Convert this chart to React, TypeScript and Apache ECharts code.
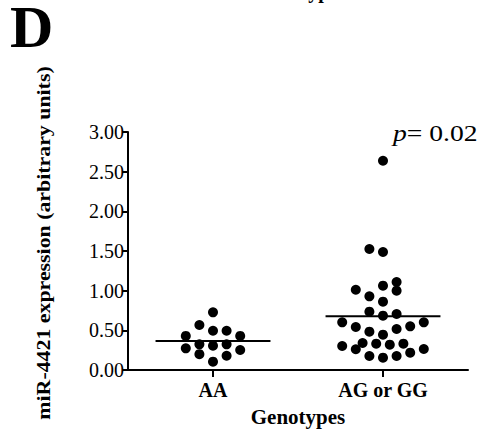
import React, { useEffect, useRef } from "react";
import * as echarts from "echarts";

const categories = ["AA", "AG or GG"];
const yTicks = [0, 0.5, 1, 1.5, 2, 2.5, 3];

// Expression values and horizontal scatter slot (column) for each dot
const aaValues = [0.727, 0.567, 0.495, 0.495, 0.43, 0.43, 0.273, 0.324, 0.307, 0.324, 0.252, 0.2, 0.18, 0.105];
const aaSlots = [0, -1, 0, 1, -2, 2, -2, -1, 0, 1, 2, -1, 1, 0];

const agValues = [
  2.638, 1.525, 1.487, 1.109, 1.0, 1.063, 1.012, 0.929, 0.861, 0.735, 0.685, 0.706, 0.601, 0.601, 0.542,
  0.55, 0.517, 0.483, 0.445, 0.303, 0.34, 0.332, 0.319, 0.332, 0.261, 0.265, 0.218, 0.176, 0.155, 0.176,
];
const agSlots = [
  0, -1, 0, 1, 1, 0, -2, -1, 0, -1, 0, 1, -3, 3, -2,
  2, 1, -1, 0, -3, -1.5, -0.5, 0.5, 1.5, -2, 3, 2, -1, 0, 1,
];

const means = [0.365, 0.677];
const pText = "= 0.02";

const SLOT_STEP = 0.08;
const MEAN_HALF = 0.338;
const FONT = "Liberation Serif";

export default function App() {
  const ref = useRef<HTMLDivElement>(null);
  useEffect(() => {
    if (!ref.current) return;
    const chart = echarts.init(ref.current, undefined, { renderer: "svg" });
    const toPts = (vals: number[], slots: number[], ci: number) =>
      vals.map((v, i) => [ci + 0.5 + slots[i] * SLOT_STEP, v]);
    const groups = [toPts(aaValues, aaSlots, 0), toPts(agValues, agSlots, 1)];

    const series: any[] = [];
    groups.forEach((pts, gi) => {
      series.push({
        type: "scatter",
        xAxisIndex: 1,
        data: pts,
        symbol: "circle",
        symbolSize: 10,
        itemStyle: { color: "#000", opacity: 1 },
        silent: true,
      });
      series.push({
        type: "line",
        xAxisIndex: 1,
        data: [
          [gi + 0.5 - MEAN_HALF, means[gi]],
          [gi + 0.5 + MEAN_HALF, means[gi]],
        ],
        symbol: "none",
        lineStyle: { color: "#000", width: 2 },
        silent: true,
      });
    });

    chart.setOption({
      animation: false,
      backgroundColor: "#fff",
      grid: { left: 128, top: 132, width: 340, height: 238, containLabel: false },
      xAxis: [
        {
          type: "category",
          data: categories,
          boundaryGap: true,
          axisLine: { show: true, lineStyle: { color: "#000", width: 2 } },
          axisTick: { show: true, alignWithLabel: true, length: 7, lineStyle: { color: "#000", width: 2 } },
          axisLabel: { color: "#000", fontFamily: FONT, fontWeight: "bold", fontSize: 20, margin: 10 },
          name: "Genotypes",
          nameLocation: "middle",
          nameGap: 36,
          nameTextStyle: { color: "#000", fontFamily: FONT, fontWeight: "bold", fontSize: 21 },
        },
        { type: "value", min: 0, max: 2, show: false },
      ],
      yAxis: {
        type: "value",
        min: yTicks[0],
        max: yTicks[yTicks.length - 1],
        interval: 0.5,
        axisLine: { show: true, lineStyle: { color: "#000", width: 2 } },
        axisTick: { show: true, length: 6, lineStyle: { color: "#000", width: 2 } },
        splitLine: { show: false },
        axisLabel: {
          color: "#000",
          fontFamily: FONT,
          fontSize: 20,
          margin: 4,
          formatter: (v: number) => v.toFixed(2),
        },
      },
      graphic: [
        {
          type: "text",
          x: 10,
          y: 27,
          style: { text: "D", font: `bold 60px ${FONT}`, fill: "#000", align: "left", verticalAlign: "middle" },
        },
        {
          type: "text",
          x: 301,
          y: 1,
          style: { text: "Genotypes", font: `bold 20px ${FONT}`, fill: "#000", align: "center", verticalAlign: "bottom" },
        },
        {
          type: "text",
          x: 44,
          y: 243,
          rotation: Math.PI / 2,
          scaleX: 1.15,
          style: {
            text: "miR-4421 expression (arbitrary units)",
            font: `bold 19px ${FONT}`,
            fill: "#000",
            align: "center",
            verticalAlign: "middle",
          },
        },
        {
          type: "text",
          x: 393,
          y: 133,
          scaleX: 1.2,
          style: {
            rich: {
              i: { fontFamily: FONT, fontStyle: "italic", fontSize: 23, fill: "#000" },
              n: { fontFamily: FONT, fontSize: 23, fill: "#000" },
            },
            text: `{i|p}{n|${pText}}`,
            align: "left",
            verticalAlign: "middle",
          },
        },
      ],
      series,
    });
    return () => chart.dispose();
  }, []);
  return (
    <div
      ref={ref}
      style={{ position: "fixed", left: 0, top: 0, width: 486, height: 433, background: "#fff" }}
    />
  );
}
